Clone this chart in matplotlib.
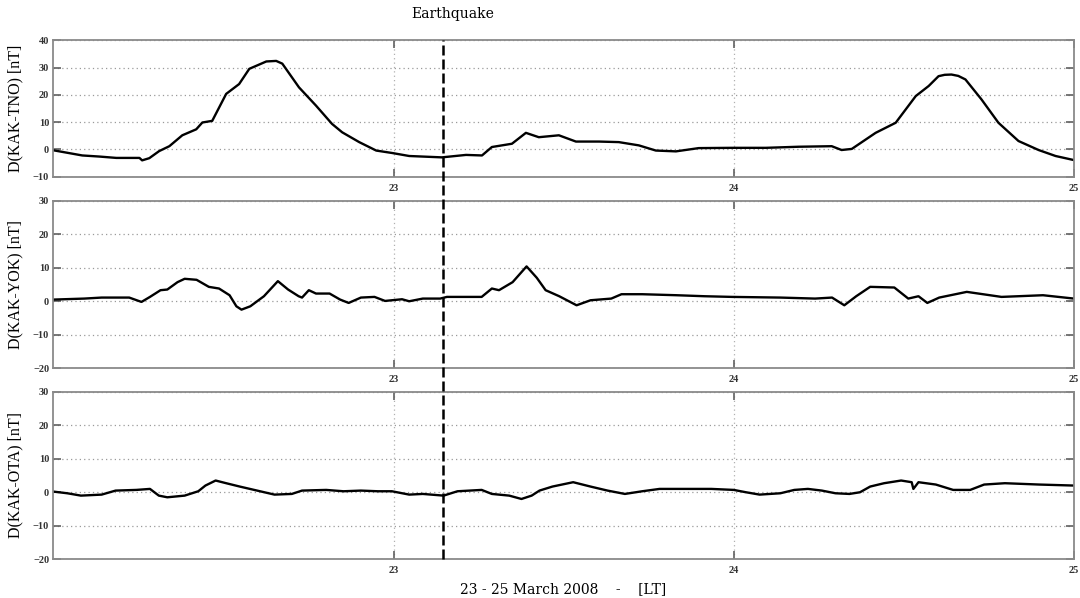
import matplotlib
matplotlib.use('Agg')
import matplotlib.pyplot as plt
from matplotlib.lines import Line2D
from matplotlib import transforms

# D(KAK-TNO)
tno_day = [22.000, 22.085, 22.135, 22.185, 22.253, 22.261, 22.282, 22.311, 22.341, 22.379,
           22.420, 22.438, 22.467, 22.508, 22.546, 22.576, 22.626, 22.655, 22.673, 22.722,
           22.772, 22.819, 22.849, 22.899, 22.949, 22.996, 23.046, 23.142, 23.213, 23.260,
           23.289, 23.348, 23.389, 23.427, 23.486, 23.536, 23.604, 23.662, 23.721, 23.771,
           23.830, 23.897, 23.994, 24.094, 24.191, 24.288, 24.317, 24.347, 24.417, 24.476,
           24.535, 24.573, 24.602, 24.620, 24.640, 24.660, 24.681, 24.728, 24.778, 24.837,
           24.896, 24.946, 25.000]
tno_val = [-0.3, -2.2, -2.6, -3.1, -3.1, -4.0, -3.2, -0.6, 1.2, 5.2,
           7.4, 9.9, 10.5, 20.4, 24.0, 29.6, 32.3, 32.5, 31.5, 22.8,
           16.1, 9.4, 6.3, 2.7, -0.4, -1.3, -2.4, -2.9, -2.0, -2.2,
           0.9, 2.1, 6.1, 4.5, 5.2, 2.9, 2.9, 2.7, 1.5, -0.4,
           -0.7, 0.5, 0.6, 0.6, 1.0, 1.2, -0.2, 0.2, 6.1, 9.8,
           19.6, 23.3, 26.9, 27.4, 27.5, 27.0, 25.7, 18.4, 9.8, 3.1,
           -0.2, -2.4, -3.9]

# D(KAK-YOK)
yok_day = [22.000, 22.091, 22.142, 22.223, 22.259, 22.284, 22.315, 22.335, 22.365, 22.386,
           22.421, 22.457, 22.487, 22.518, 22.538, 22.553, 22.579, 22.619, 22.660, 22.690,
           22.721, 22.731, 22.751, 22.772, 22.812, 22.843, 22.868, 22.904, 22.944, 22.975,
           23.025, 23.046, 23.086, 23.137, 23.157, 23.259, 23.289, 23.310, 23.350, 23.391,
           23.421, 23.447, 23.487, 23.538, 23.579, 23.640, 23.670, 23.731, 23.832, 23.914,
           23.995, 24.137, 24.239, 24.289, 24.325, 24.360, 24.401, 24.472, 24.513, 24.543,
           24.569, 24.604, 24.685, 24.787, 24.909, 25.000]
yok_val = [0.5, 0.8, 1.1, 1.1, -0.2, 1.3, 3.3, 3.5, 5.7, 6.7,
           6.4, 4.3, 3.8, 1.8, -1.5, -2.5, -1.5, 1.5, 6.0, 3.5,
           1.5, 1.1, 3.3, 2.3, 2.3, 0.5, -0.5, 1.1, 1.3, 0.1,
           0.6, 0.0, 0.8, 0.8, 1.3, 1.3, 3.8, 3.3, 5.7, 10.4,
           7.0, 3.3, 1.5, -1.2, 0.3, 0.8, 2.1, 2.1, 1.8, 1.5,
           1.3, 1.1, 0.8, 1.1, -1.2, 1.5, 4.3, 4.1, 0.8, 1.5,
           -0.5, 1.1, 2.8, 1.3, 1.8, 0.8]

# D(KAK-OTA)
ota_day = [22.000, 22.041, 22.081, 22.142, 22.183, 22.244, 22.284, 22.310, 22.335, 22.386,
           22.426, 22.447, 22.477, 22.508, 22.548, 22.599, 22.650, 22.701, 22.731, 22.802,
           22.853, 22.904, 22.954, 22.995, 23.046, 23.086, 23.147, 23.188, 23.259, 23.289,
           23.340, 23.376, 23.406, 23.429, 23.467, 23.528, 23.579, 23.629, 23.680, 23.731,
           23.782, 23.853, 23.934, 24.000, 24.036, 24.076, 24.137, 24.178, 24.218, 24.259,
           24.299, 24.340, 24.371, 24.401, 24.442, 24.492, 24.523, 24.528, 24.543, 24.594,
           24.645, 24.695, 24.736, 24.797, 24.898, 25.000]
ota_val = [0.2, -0.3, -1.0, -0.7, 0.5, 0.7, 1.0, -1.0, -1.5, -1.0,
           0.3, 2.0, 3.5, 2.7, 1.7, 0.5, -0.7, -0.5, 0.5, 0.7,
           0.3, 0.5, 0.3, 0.3, -0.7, -0.5, -1.0, 0.3, 0.7, -0.5,
           -1.0, -2.0, -1.0, 0.5, 1.7, 3.0, 1.7, 0.5, -0.5, 0.3,
           1.0, 1.0, 1.0, 0.7, 0.0, -0.7, -0.3, 0.7, 1.0, 0.5,
           -0.3, -0.5, 0.0, 1.7, 2.7, 3.5, 3.0, 1.0, 3.0, 2.3,
           0.7, 0.7, 2.3, 2.7, 2.3, 2.0]

quake_day = 23.145
xticks = [23, 24, 25]
panels = [
    (tno_day, tno_val, 'D(KAK-TNO) [nT]', (-10, 40)),
    (yok_day, yok_val, 'D(KAK-YOK) [nT]', (-20, 30)),
    (ota_day, ota_val, 'D(KAK-OTA) [nT]', (-20, 30)),
]

serif = ['Liberation Serif', 'DejaVu Serif']
fig = plt.figure(figsize=(10.8, 5.98), dpi=100)
boxes = [[0.0494, 0.7045, 0.945, 0.2278],
         [0.0494, 0.3841, 0.945, 0.2803],
         [0.0494, 0.0647, 0.945, 0.2803]]

axes = []
for box, (d, v, lab, lim) in zip(boxes, panels):
    ax = fig.add_axes(box)
    ax.plot(d, v, color='black', lw=1.7)
    ax.set_xlim(22, 25)
    ax.set_ylim(*lim)
    ax.set_yticks(range(lim[0], lim[1] + 1, 10))
    ax.set_xticks(xticks)
    ax.set_xticklabels([str(t) for t in xticks])
    ax.grid(True, axis='y', linestyle=(0, (1, 2.5)), color='#9a9a9a', lw=0.9)
    ax.grid(True, axis='x', linestyle=(0, (1, 2.5)), color='#b0b0b0', lw=0.9)
    ax.tick_params(direction='in', top=True, right=True, length=6, width=1.2,
                   color='#606060', labelsize=7.5, pad=3)
    ax.tick_params(axis='x', pad=5)
    for t in ax.get_xticklabels() + ax.get_yticklabels():
        t.set_family(serif)
        t.set_fontweight('bold')
        t.set_color('#333333')
    for s in ax.spines.values():
        s.set_color('#8a8a8a')
        s.set_linewidth(1.3)
    ax.set_ylabel(lab, family=serif, fontsize=11.5)
    ax.yaxis.set_label_coords(-0.029, 0.5)
    axes.append(ax)

# earthquake marker crossing all panels
tr = transforms.blended_transform_factory(axes[0].transData, fig.transFigure)
fig.add_artist(Line2D([quake_day, quake_day], [0.0647, 0.9323], transform=tr,
                      color='black', lw=1.8, linestyle=(0, (4, 1.6))))

fig.text(453 / 1080, 1 - 14 / 598, 'Earthquake', family='DejaVu Serif', fontsize=10,
         ha='center', va='center')
fig.text(0.5218, 1 - 589 / 598, '23 - 25 March 2008    -    [LT]', family='DejaVu Serif',
         fontsize=10, ha='center', va='center')

fig.savefig('out.png', dpi=100)
